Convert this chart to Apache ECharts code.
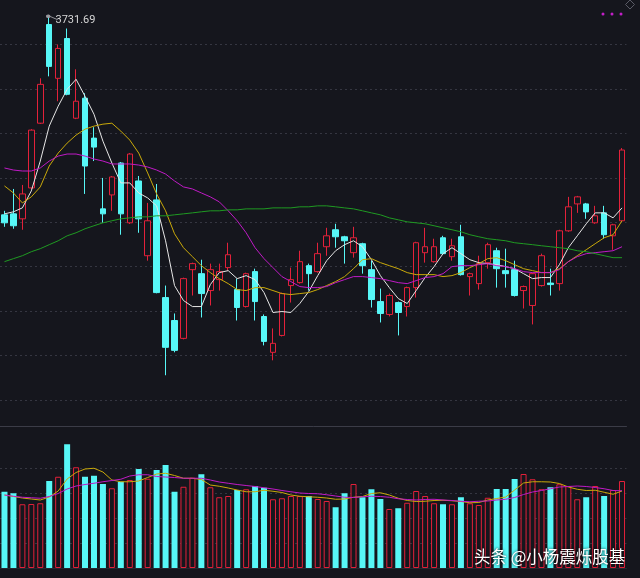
<!DOCTYPE html>
<html><head><meta charset="utf-8">
<script src="https://cdn.jsdelivr.net/npm/echarts/dist/echarts.min.js"></script>
<style>html,body{margin:0;padding:0;background:#15161d;}#c{width:640px;height:578px;}</style>
</head><body><div id="c"></div>
<script>
// ---- data ----
const opens = [3508.3,3509.4,3503.8,3538.6,3611.4,3722.4,3661.9,3706.7,3617.0,3639.5,
3594.6,3515.0,3530.7,3566.6,3499.3,3546.4,3462.3,3525.1,3415.2,3389.4,
3369.3,3446.6,3442.1,3423.1,3435.4,3448.9,3424.2,3405.1,3444.4,3393.9,
3353.6,3372.6,3428.7,3432.0,3451.1,3444.4,3472.4,3491.5,3483.6,3465.7,
3475.8,3446.6,3410.7,3396.2,3409.6,3405.1,3426.4,3465.7,3455.6,3482.5,
3461.2,3483.6,3438.8,3430.9,3454.5,3467.9,3445.5,3446.6,3423.1,3406.3,
3428.7,3431.5,3430.9,3490.3,3520.6,3520.6,3499.3,3510.5,3484.7,3501.6];
const closes = [3499.3,3496.0,3531.8,3603.6,3655.1,3675.3,3695.5,3643.9,3636.1,3563.2,
3584.5,3509.4,3550.9,3509.4,3576.7,3503.8,3501.6,3420.8,3359.2,3355.8,
3436.5,3453.4,3419.7,3446.6,3444.4,3463.4,3404.0,3442.1,3410.7,3365.9,
3363.7,3419.7,3435.4,3455.6,3442.1,3464.6,3484.7,3483.6,3479.1,3482.5,
3451.1,3413.0,3397.3,3417.5,3398.4,3426.4,3476.9,3472.4,3472.4,3464.6,
3473.5,3441.0,3442.1,3453.4,3474.7,3447.7,3442.1,3417.5,3427.6,3442.1,
3462.3,3429.8,3490.3,3517.3,3528.5,3511.6,3507.2,3485.9,3497.1,3581.2];
const lows = [3494.8,3492.6,3491.5,3537.4,3610.5,3664.1,3636.1,3642.8,3616.0,3531.8,
3568.8,3499.3,3512.8,3485.9,3498.0,3488.1,3456.7,3420.0,3327.8,3353.6,
3368.2,3417.5,3392.8,3406.3,3423.1,3445.5,3389.4,3404.0,3389.4,3361.4,
3344.6,3371.5,3409.6,3430.9,3423.1,3443.2,3462.3,3471.3,3453.4,3460.1,
3442.1,3404.0,3387.2,3394.0,3372.6,3393.9,3415.2,3454.5,3454.5,3463.4,
3456.7,3439.9,3417.5,3424.2,3447.7,3426.4,3426.4,3416.4,3402.9,3385.0,
3427.6,3417.5,3423.1,3489.2,3510.5,3503.8,3498.2,3481.4,3469.0,3500.5];
const highs = [3512.8,3537.4,3541.9,3604.7,3661.9,3731.69,3700.0,3717.9,3672.0,3645.1,
3606.9,3549.8,3552.0,3567.7,3577.8,3552.0,3521.7,3543.0,3428.7,3397.3,
3437.6,3454.5,3457.8,3453.4,3453.4,3476.9,3436.5,3443.2,3447.7,3396.2,
3380.5,3420.8,3448.9,3467.9,3453.4,3476.9,3493.7,3498.2,3484.7,3494.8,
3476.9,3456.7,3425.3,3419.7,3410.7,3427.5,3478.0,3493.7,3481.4,3484.7,
3481.4,3497.1,3443.2,3462.3,3476.9,3471.3,3470.2,3456.7,3428.7,3443.2,
3464.6,3447.7,3491.5,3528.5,3529.6,3521.7,3518.4,3518.4,3498.2,3583.4];
const ma5 = [3509.4,3511.7,3516.1,3535.2,3568.8,3608.1,3630.5,3649.5,3660.8,3641.7,
3621.5,3591.2,3566.6,3544.2,3544.2,3532.9,3527.3,3518.4,3479.1,3428.7,
3411.9,3405.1,3405.1,3429.8,3443.3,3445.5,3436.5,3439.9,3435.4,3420.8,
3398.4,3399.5,3398.4,3408.5,3422.0,3439.9,3456.7,3467.9,3474.7,3479.1,
3472.4,3457.8,3439.9,3426.4,3414.1,3408.5,3423.1,3437.7,3450.0,3464.6,
3471.3,3464.6,3457.8,3454.5,3453.4,3452.2,3450.0,3447.7,3442.1,3436.5,
3437.7,3437.7,3452.2,3471.3,3484.7,3498.2,3510.5,3510.5,3504.9,3516.1];
const ma10 = [3540.8,3532.9,3521.7,3528.5,3539.7,3563.2,3577.8,3589.0,3598.0,3604.7,
3608.1,3610.3,3611.4,3602.5,3592.4,3577.8,3555.4,3531.8,3512.8,3487.0,
3471.3,3461.2,3451.1,3443.3,3436.5,3430.9,3424.2,3423.1,3426.4,3426.4,
3423.1,3419.7,3418.6,3419.7,3420.8,3424.2,3428.7,3433.2,3438.8,3447.7,
3457.8,3459.0,3454.5,3451.1,3447.7,3443.3,3441.0,3441.0,3441.0,3438.8,
3439.9,3443.3,3448.9,3453.4,3459.0,3460.1,3456.7,3452.2,3447.7,3445.5,
3443.3,3443.3,3447.7,3455.6,3462.3,3469.0,3475.8,3482.5,3485.9,3501.6];
const ma20 = [3561.0,3558.7,3557.6,3557.6,3561.0,3568.8,3574.4,3576.7,3576.7,3574.4,
3571.1,3568.8,3565.5,3565.5,3565.5,3564.3,3562.1,3558.7,3554.2,3546.4,
3539.7,3537.4,3532.9,3528.5,3522.9,3512.8,3501.6,3488.1,3471.3,3459.0,
3448.9,3438.8,3433.2,3427.6,3426.4,3426.4,3427.6,3432.0,3435.4,3438.8,
3438.8,3437.7,3436.5,3434.3,3432.0,3430.9,3434.3,3437.7,3438.8,3442.1,
3450.0,3451.1,3451.1,3452.2,3453.4,3451.1,3450.0,3447.7,3444.4,3443.3,
3443.3,3443.3,3446.6,3455.6,3461.2,3464.6,3465.7,3466.8,3467.9,3472.4];
const ma60 = [3455.6,3459.0,3462.3,3466.8,3470.2,3474.7,3479.1,3484.7,3488.1,3492.6,
3496.0,3499.3,3501.6,3503.8,3504.9,3506.0,3506.0,3507.2,3507.2,3508.3,
3509.4,3510.5,3511.7,3512.8,3512.8,3513.9,3513.9,3515.0,3515.0,3515.0,
3516.1,3516.1,3516.1,3517.3,3517.3,3518.4,3518.4,3517.3,3516.1,3515.0,
3512.8,3510.5,3508.3,3504.9,3502.7,3500.4,3499.3,3498.2,3496.0,3493.7,
3491.5,3489.2,3485.9,3483.6,3481.4,3480.3,3479.1,3476.9,3475.8,3474.7,
3473.5,3472.4,3471.3,3470.2,3467.9,3466.8,3464.6,3462.3,3460.1,3460.1];
const volumes = [3.05,2.99,2.55,2.56,2.59,3.48,3.65,4.95,4.03,3.65,
3.69,3.36,3.19,3.45,3.52,3.96,3.57,3.92,4.12,3.05,
3.25,3.61,3.75,3.23,2.83,2.88,3.12,3.15,3.28,3.21,
2.75,2.79,2.88,2.88,2.88,2.76,2.68,2.43,2.99,3.36,
2.83,3.15,2.76,2.36,2.39,2.61,3.08,2.88,2.59,2.55,
2.55,2.83,2.59,2.52,2.81,3.16,3.16,3.56,3.76,3.55,
3.15,3.23,3.35,3.28,2.75,2.83,3.28,2.88,3.12,3.48];
const vma5 = [2.92,2.86,2.80,2.76,2.72,2.84,3.08,3.56,3.82,3.96,
3.99,3.84,3.52,3.45,3.45,3.48,3.62,3.76,3.79,3.70,
3.59,3.59,3.54,3.32,3.27,3.20,3.12,3.05,3.05,3.11,
3.07,3.02,2.92,2.87,2.85,2.83,2.80,2.75,2.76,2.83,
2.86,2.98,3.01,2.92,2.79,2.70,2.66,2.67,2.70,2.71,
2.69,2.66,2.61,2.62,2.72,2.78,2.84,3.12,3.40,3.45,
3.45,3.44,3.38,3.24,3.15,3.10,3.11,3.03,2.95,3.08];
const vma10 = [2.92,2.87,2.83,2.81,2.79,2.86,2.98,3.16,3.28,3.34,
3.39,3.45,3.50,3.55,3.68,3.73,3.73,3.66,3.64,3.62,
3.59,3.59,3.59,3.52,3.44,3.39,3.34,3.30,3.26,3.21,
3.16,3.10,3.05,3.00,2.98,2.97,2.93,2.88,2.83,2.82,
2.85,2.87,2.86,2.83,2.77,2.74,2.72,2.74,2.75,2.72,
2.70,2.67,2.65,2.67,2.68,2.72,2.75,2.82,2.94,3.04,
3.10,3.17,3.24,3.26,3.28,3.26,3.22,3.17,3.10,3.09];
const categories = opens.map((_, i) => 'D' + (i + 1));
const maxLabel = '3731.69';

// ---- styles ----
const BG = '#15161d';
const UP = '#e3213a';
const DOWN = '#57f7f7';
const GRID = '#353641';

const candleData = opens.map((o, i) => [o, closes[i], lows[i], highs[i]]);
const volData = volumes.map((v, i) => ({
  value: v,
  itemStyle: closes[i] >= opens[i]
    ? { color: BG, borderColor: UP, borderWidth: 1 }
    : { color: DOWN, borderColor: DOWN, borderWidth: 0 }
}));

const hiddenCat = (grid, pos, lineColor) => ({
  type: 'category', data: categories, gridIndex: grid, position: pos, boundaryGap: true,
  axisLine: { show: !!lineColor, onZero: false, lineStyle: { color: lineColor || GRID, width: 1 } },
  axisTick: { show: false }, axisLabel: { show: false }, splitLine: { show: false }
});

const lineS = (name, data, color, xi, yi) => ({
  name, type: 'line', data, xAxisIndex: xi, yAxisIndex: yi, showSymbol: false, symbol: 'none',
  smooth: false, lineStyle: { color, width: 1 }, z: 5, silent: true
});

const chart = echarts.init(document.getElementById('c'), null, { renderer: 'canvas' });
chart.setOption({
  backgroundColor: BG,
  animation: false,
  title: {
    text: '头条 @小杨震烁股基', left: 469, top: 543,
    textStyle: { color: '#ffffff', fontSize: 16.5, fontWeight: 'normal',
      fontFamily: '"Noto Sans CJK SC", sans-serif',
      textShadowColor: 'rgba(0,0,0,0.9)', textShadowBlur: 3 }
  },
  grid: [
    { left: -4.5, right: 13.5, top: -1.6, bottom: 133.6 },
    { left: -4.5, right: 13.5, top: 426, bottom: 10 }
  ],
  xAxis: [
    hiddenCat(0, 'bottom', null),
    hiddenCat(1, 'top', '#3b3c47'),
    hiddenCat(1, 'bottom', '#262730')
  ],
  yAxis: [
    { type: 'value', gridIndex: 0, min: 3250, max: 3750, interval: 50,
      axisLine: { show: false }, axisTick: { show: false }, axisLabel: { show: false },
      splitLine: { show: true, showMinLine: false, showMaxLine: false,
        lineStyle: { color: GRID, type: [2, 3], width: 1 } } },
    { type: 'value', gridIndex: 1, min: 0, max: 5.68, interval: 1,
      axisLine: { show: false }, axisTick: { show: false }, axisLabel: { show: false },
      splitLine: { show: true, showMinLine: false, showMaxLine: false,
        lineStyle: { color: [GRID, GRID, GRID, GRID, 'rgba(0,0,0,0)'], type: [2, 3], width: 1 } } }
  ],
  graphic: [
    { type: 'circle', shape: { cx: 603, cy: 14, r: 1.5 }, style: { fill: '#c21fc8' } },
    { type: 'circle', shape: { cx: 612, cy: 14, r: 1.5 }, style: { fill: '#c21fc8' } },
    { type: 'circle', shape: { cx: 621, cy: 14, r: 1.5 }, style: { fill: '#c21fc8' } },
    { type: 'polygon', shape: { points: [[630, 0], [634.5, 4.5], [630, 9], [625.5, 4.5]] },
      style: { fill: 'none', stroke: '#5a5b66', lineWidth: 1 } }
  ],
  series: [
    { name: 'K', type: 'candlestick', data: candleData, xAxisIndex: 0, yAxisIndex: 0,
      barWidth: 6,
      itemStyle: { color: BG, color0: DOWN, borderColor: UP, borderColor0: DOWN, borderWidth: 1 },
      markPoint: {
        data: [{ type: 'max', valueDim: 'highest', name: 'max' }],
        symbol: 'path://M0,1.5 A1.5,1.5 0 1,1 3,1.5 A1.5,1.5 0 1,1 0,1.5 Z M3,1.5 L11,5',
        symbolSize: [11, 5], symbolKeepAspect: false, symbolOffset: [3, 1],
        itemStyle: { color: '#9a9aa0', borderColor: '#9a9aa0', borderWidth: 1 },
        label: { show: true, position: 'right', distance: 1, offset: [-4, 3],
          formatter: () => maxLabel, color: '#d6d6d6', fontSize: 11,
          fontFamily: 'Roboto, sans-serif' }
      }
    },
    lineS('MA5', ma5, '#e6e6e6', 0, 0),
    lineS('MA10', ma10, '#c9a90a', 0, 0),
    lineS('MA20', ma20, '#c01ac6', 0, 0),
    lineS('MA60', ma60, '#1f9a22', 0, 0),
    { name: 'VOL', type: 'bar', data: volData, xAxisIndex: 1, yAxisIndex: 1, barWidth: 6 },
    lineS('VMA5', vma5, '#c9a90a', 1, 1),
    lineS('VMA10', vma10, '#c01ac6', 1, 1)
  ]
});
</script></body></html>
